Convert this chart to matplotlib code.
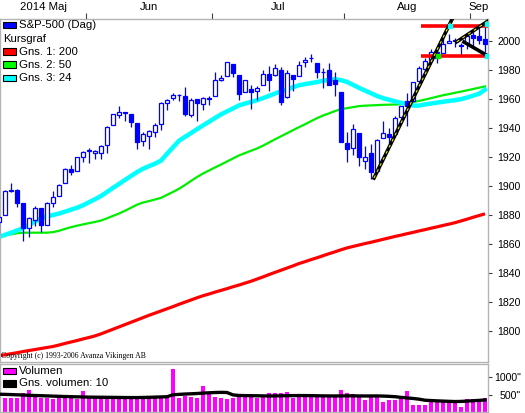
import numpy as np
import pandas as pd
import matplotlib
matplotlib.use("Agg")
import matplotlib.pyplot as plt
from matplotlib.patches import Rectangle

# S&P-500 daily, 2014-05-09 .. 2014-09-04
dates = ["2014-05-09", "2014-05-12", "2014-05-13", "2014-05-14", "2014-05-15", "2014-05-16",
         "2014-05-19", "2014-05-20", "2014-05-21", "2014-05-22", "2014-05-23",
         "2014-05-27", "2014-05-28", "2014-05-29", "2014-05-30",
         "2014-06-02", "2014-06-03", "2014-06-04", "2014-06-05", "2014-06-06",
         "2014-06-09", "2014-06-10", "2014-06-11", "2014-06-12", "2014-06-13",
         "2014-06-16", "2014-06-17", "2014-06-18", "2014-06-19", "2014-06-20",
         "2014-06-23", "2014-06-24", "2014-06-25", "2014-06-26", "2014-06-27", "2014-06-30",
         "2014-07-01", "2014-07-02", "2014-07-03", "2014-07-07", "2014-07-08",
         "2014-07-09", "2014-07-10", "2014-07-11", "2014-07-14", "2014-07-15",
         "2014-07-16", "2014-07-17", "2014-07-18", "2014-07-21", "2014-07-22",
         "2014-07-23", "2014-07-24", "2014-07-25", "2014-07-28", "2014-07-29",
         "2014-07-30", "2014-07-31",
         "2014-08-01", "2014-08-04", "2014-08-05", "2014-08-06", "2014-08-07",
         "2014-08-08", "2014-08-11", "2014-08-12", "2014-08-13", "2014-08-14",
         "2014-08-15", "2014-08-18", "2014-08-19", "2014-08-20", "2014-08-21",
         "2014-08-22", "2014-08-25", "2014-08-26", "2014-08-27", "2014-08-28",
         "2014-08-29", "2014-09-02", "2014-09-03", "2014-09-04"]

opens = [1875.3, 1880.0, 1896.8, 1897.1, 1888.2, 1871.2, 1876.7, 1884.9, 1873.3, 1888.2, 1893.3,
         1902.0, 1911.8, 1910.6, 1920.3,
         1923.9, 1923.1, 1923.1, 1928.5, 1942.4, 1949.0, 1950.3, 1949.4, 1943.4, 1930.8,
         1934.8, 1937.2, 1942.7, 1957.5, 1960.5, 1962.9, 1962.0, 1949.3, 1959.9, 1956.6, 1960.8,
         1962.3, 1973.1, 1975.9, 1984.2, 1976.4, 1965.1, 1966.7, 1965.8, 1969.9, 1977.4,
         1976.4, 1979.8, 1961.5, 1976.9, 1975.7, 1985.3, 1988.1, 1984.6, 1978.3, 1980.0,
         1973.2, 1965.1,
         1929.8, 1926.0, 1936.3, 1917.3, 1923.0, 1910.4, 1933.4, 1935.7, 1935.6, 1947.4,
         1958.9, 1958.4, 1972.7, 1980.5, 1986.8, 1992.6, 1991.7, 1998.6, 2000.5, 1997.4,
         1998.5, 2004.1, 2003.6, 2001.7]
highs = [1878.8, 1897.1, 1902.2, 1897.8, 1888.2, 1878.3, 1886.0, 1884.9, 1888.8, 1896.3, 1901.3,
         1912.3, 1914.5, 1920.0, 1924.0,
         1925.9, 1925.1, 1928.6, 1941.7, 1949.4, 1955.5, 1950.9, 1949.4, 1943.4, 1937.3,
         1938.4, 1943.7, 1957.7, 1959.9, 1963.9, 1963.7, 1968.2, 1960.8, 1959.9, 1961.5, 1962.3,
         1978.6, 1976.7, 1985.6, 1984.2, 1976.4, 1972.8, 1969.8, 1968.7, 1979.9, 1982.5,
         1983.9, 1981.8, 1979.9, 1976.9, 1986.2, 1989.2, 1991.4, 1984.6, 1981.5, 1984.9,
         1978.9, 1965.1,
         1937.4, 1942.9, 1936.3, 1927.9, 1928.9, 1932.4, 1944.9, 1939.7, 1948.4, 1955.2,
         1964.0, 1972.0, 1982.6, 1988.6, 1994.8, 1993.5, 2002.0, 2005.0, 2002.1, 1998.5,
         2003.4, 2006.1, 2009.3, 2011.2]
lows = [1867.0, 1880.0, 1896.1, 1885.8, 1862.4, 1864.8, 1872.4, 1868.1, 1873.3, 1885.4, 1893.3,
        1902.0, 1907.3, 1910.6, 1916.6,
        1916.0, 1918.8, 1918.6, 1922.9, 1942.4, 1947.2, 1944.6, 1940.8, 1925.8, 1927.7,
        1925.5, 1933.6, 1938.7, 1952.3, 1959.2, 1958.9, 1948.3, 1947.5, 1944.7, 1952.2, 1955.9,
        1962.3, 1972.6, 1975.9, 1974.9, 1959.5, 1965.1, 1952.9, 1959.6, 1969.9, 1965.3,
        1975.7, 1955.6, 1960.8, 1965.8, 1975.7, 1982.4, 1985.8, 1974.4, 1967.3, 1969.9,
        1962.4, 1930.7,
        1916.4, 1921.2, 1913.8, 1911.5, 1904.8, 1909.0, 1933.4, 1928.3, 1935.6, 1947.4,
        1941.5, 1958.4, 1972.7, 1977.7, 1986.8, 1984.8, 1991.7, 1998.6, 1996.2, 1990.5,
        1994.7, 1994.9, 1998.1, 1992.4]
closes = [1878.5, 1896.7, 1897.5, 1888.5, 1870.9, 1877.9, 1885.1, 1872.8, 1888.0, 1892.5, 1900.5,
          1911.9, 1909.8, 1920.0, 1923.6,
          1925.0, 1924.2, 1927.9, 1940.5, 1949.4, 1951.3, 1950.8, 1943.9, 1930.1, 1936.2,
          1937.8, 1942.0, 1957.0, 1959.5, 1962.9, 1962.6, 1950.0, 1959.5, 1957.2, 1961.0, 1960.2,
          1973.3, 1974.6, 1985.4, 1977.7, 1963.7, 1972.8, 1964.7, 1967.6, 1977.1, 1973.3,
          1981.6, 1958.1, 1978.2, 1973.6, 1983.5, 1987.0, 1988.0, 1978.3, 1978.9, 1970.0,
          1970.1, 1930.7,
          1925.2, 1939.0, 1920.2, 1920.2, 1909.6, 1931.6, 1936.9, 1933.8, 1946.7, 1955.2,
          1955.1, 1971.7, 1981.6, 1986.5, 1992.4, 1988.4, 1997.9, 2000.0, 2000.1, 1996.7,
          2003.4, 2002.3, 2000.7, 1997.7]

# moving averages
ma200 = [1782.9, 1783.6, 1784.3, 1785.0, 1785.8, 1786.5, 1787.2, 1787.9, 1788.6, 1789.3,
         1790.3, 1791.4, 1792.4, 1793.4, 1794.5, 1795.5, 1796.6, 1798.0, 1799.6, 1801.2,
         1802.8, 1804.4, 1806.0, 1807.6, 1809.2, 1810.8, 1812.3, 1813.8, 1815.3, 1816.8,
         1818.4, 1819.9, 1821.4, 1822.9, 1824.3, 1825.5, 1826.8, 1828.0, 1829.2, 1830.5,
         1831.7, 1833.0, 1834.3, 1835.8, 1837.3, 1838.9, 1840.4, 1841.9, 1843.4, 1844.9,
         1846.5, 1847.8, 1849.2, 1850.5, 1851.9, 1853.3, 1854.6, 1856.0, 1857.3, 1858.3,
         1859.3, 1860.3, 1861.2, 1862.2, 1863.2, 1864.2, 1865.2, 1866.1, 1867.1, 1868.0,
         1869.0, 1869.9, 1870.9, 1871.8, 1872.8, 1873.7, 1874.7, 1875.9, 1877.1, 1878.4,
         1879.6, 1880.8]
ma50 = [1865.3, 1866.0, 1866.7, 1867.4, 1867.8, 1867.8, 1867.8, 1867.8, 1867.8, 1868.2,
        1869.1, 1870.4, 1871.6, 1872.6, 1873.5, 1874.4, 1875.2, 1876.2, 1877.7, 1879.4,
        1881.0, 1882.9, 1885.0, 1887.1, 1888.6, 1889.6, 1890.7, 1891.8, 1893.9, 1895.9,
        1898.1, 1900.7, 1903.5, 1906.2, 1908.6, 1910.7, 1912.8, 1914.8, 1916.9, 1919.0,
        1921.1, 1922.7, 1924.3, 1925.9, 1927.8, 1930.0, 1932.2, 1934.3, 1936.4, 1938.5,
        1940.6, 1942.6, 1944.7, 1946.8, 1948.6, 1950.1, 1951.7, 1953.0, 1953.7, 1954.4,
        1955.1, 1955.4, 1955.6, 1955.8, 1956.0, 1956.1, 1956.2, 1956.4, 1957.1, 1957.9,
        1958.7, 1959.6, 1960.6, 1961.6, 1962.6, 1963.4, 1964.3, 1965.1, 1966.0, 1966.9,
        1967.8, 1968.7]
ma24 = [1864.8, 1866.3, 1867.8, 1869.3, 1870.9, 1873.2, 1875.5, 1877.8, 1879.0, 1880.0,
        1881.0, 1882.3, 1883.7, 1885.0, 1886.7, 1888.8, 1890.9, 1893.1, 1895.9, 1898.7,
        1901.4, 1904.2, 1906.9, 1909.6, 1911.9, 1913.7, 1915.4, 1917.5, 1922.2, 1926.7,
        1931.2, 1933.9, 1936.5, 1939.2, 1941.8, 1944.3, 1946.9, 1949.4, 1951.5, 1953.5,
        1955.6, 1956.9, 1958.0, 1959.2, 1960.6, 1962.2, 1963.8, 1965.3, 1966.6, 1968.1,
        1969.5, 1970.3, 1971.0, 1971.7, 1972.6, 1973.2, 1973.7, 1973.0, 1971.8, 1969.8,
        1967.7, 1965.8, 1964.0, 1962.1, 1960.6, 1959.5, 1958.4, 1957.4, 1956.6, 1955.5,
        1955.4, 1956.3, 1956.9, 1957.5, 1958.1, 1958.7, 1959.2, 1959.9, 1961.0, 1962.3,
        1963.6, 1966.4]

volume = [420, 406, 406, 406, 547, 641, 453, 425, 406, 378, 453, 472, 406, 378, 613,
          406, 406, 406, 434, 434, 406, 406, 425, 453, 472, 434, 434, 453, 481, 1235,
          425, 481, 453, 425, 754, 528, 453, 406, 378, 406, 481, 453, 453, 406, 453,
          566, 547, 566, 594, 406, 453, 453, 472, 472, 453, 472, 453, 641, 547, 519,
          472, 359, 472, 453, 312, 359, 359, 378, 613, 218, 218, 218, 378, 359, 331,
          331, 265, 170, 378, 378, 378, 406]
vol_ma10 = [520, 515, 510, 503, 497, 490, 483, 478, 472, 466, 460, 455, 450, 446, 442,
            438, 435, 434, 432, 430, 428, 426, 425, 424, 428, 432, 438, 443, 448, 505,
            515, 525, 532, 540, 552, 560, 568, 573, 568, 500, 485, 480, 478, 476, 472,
            470, 472, 475, 478, 480, 482, 481, 479, 476, 473, 471, 470, 472, 474, 473,
            471, 470, 470, 471, 468, 460, 450, 430, 415, 400, 380, 350, 340, 332, 325,
            318, 312, 316, 325, 335, 345, 358]

# hand drawn analysis lines (day index, price)
trend_x, trend_y = [62.5, 75.7], [1905.5, 2016.6]
wedge_top_x, wedge_top_y = [76.3, 81.5], [1999.5, 2013.8]
wedge_bot_x, wedge_bot_y = [77.5, 81.5], [1999.3, 1989.7]
resist_x, resist_y = [70.3, 82.0], [2010.6, 2010.6]
support_x, support_y = [70.3, 82.0], [1989.9, 1989.9]

month_names = ["Jan", "Feb", "Mar", "Apr", "Maj", "Jun", "Jul", "Aug", "Sep", "Okt", "Nov", "Dec"]
price_ticks = list(range(1800, 2001, 20))
vol_ticks = [500, 1000]

FONT = "Liberation Sans"
FS = 7.6
W, H = 525, 413

idx = np.arange(len(dates))
o, h, l, c = map(np.array, (opens, highs, lows, closes))
dt = pd.to_datetime(dates)

fig = plt.figure(figsize=(W / 100, H / 100), dpi=100)
ax = fig.add_axes([0, (H - 362) / H, 488 / W, 343 / H])
axv = fig.add_axes([0, 0.6 / H, 488 / W, 48.4 / H])

ax.set_xlim(1 / 6, 81.5)
ax.set_ylim(1778.6, 2015.2)
axv.set_xlim(1 / 6, 81.5)
axv.set_ylim(5, 1376)

# moving averages
ax.plot(idx, ma200, color="#ff0000", lw=2.3, solid_capstyle="butt", zorder=2)
ax.plot(idx, ma50, color="#00ee00", lw=1.6, zorder=2)
ax.plot(idx, ma24, color="#00ffff", lw=3.2, zorder=2)

# candles
up = c >= o
ax.vlines(idx, l, h, color="#0000ff", lw=0.9, zorder=3)
body_lo = np.minimum(o, c)
body_h = np.maximum(np.abs(c - o), 0.5)
ax.bar(idx[up], body_h[up], bottom=body_lo[up], width=0.72, facecolor="white",
       edgecolor="#0000ff", linewidth=0.9, zorder=4)
ax.bar(idx[~up], body_h[~up], bottom=body_lo[~up], width=0.72, facecolor="#0000ff",
       edgecolor="#0000ff", linewidth=0.9, zorder=4)

# analysis lines
for xs, ys in [(resist_x, resist_y), (support_x, support_y)]:
    ax.plot(xs, ys, color="#ff0000", lw=2.6, zorder=5, solid_capstyle="butt")
for xs, ys in [(trend_x, trend_y), (wedge_top_x, wedge_top_y), (wedge_bot_x, wedge_bot_y)]:
    ax.plot(xs, ys, color="black", lw=2.6, zorder=6)
for xs, ys in [(trend_x, trend_y), (wedge_top_x, wedge_top_y)]:
    ax.plot(xs, ys, color="#ffff00", lw=0.7, ls=(0, (3, 4)), zorder=7)
ax.plot([75.2, 81.3, 81.4], [2010.6, 2011.5, 1989.9], ls="none", marker="s", ms=2.5,
        color="#00ffff", zorder=8)
ax.plot([73.2], [1989.9], ls="none", marker="s", ms=2.5, color="#00ee00", zorder=8)

# volume
axv.bar(idx, volume, width=0.66, color="#ff00ff", zorder=2)
axv.plot(idx, vol_ma10, color="black", lw=2.4, zorder=3)

for a in (ax, axv):
    for s in a.spines.values():
        s.set_color("#b4b4b4")
        s.set_linewidth(1.0)
    a.set_xticks([])
    a.yaxis.tick_right()
    a.tick_params(axis="y", direction="out", length=3, width=0.8, color="#404040",
                  labelsize=FS, pad=20.5, labelcolor="black")

ax.set_yticks(price_ticks)
ax.set_yticklabels([str(t) for t in price_ticks], fontfamily=FONT)
axv.set_yticks(vol_ticks)
axv.set_yticklabels([f'{t}"' for t in vol_ticks], fontfamily=FONT)
for a in (ax, axv):
    for lbl in a.get_yticklabels():
        lbl.set_horizontalalignment("right")

# month ticks on top edge and month names above
starts = [0] + [i for i in range(1, len(dt)) if dt[i].month != dt[i - 1].month]
bounds = [s - 0.5 for s in starts[1:]]
top = ax.secondary_xaxis("top")
top.set_xticks(bounds, labels=[""] * len(bounds))
top.tick_params(direction="out", length=4, width=0.8, color="#404040")
top.spines["top"].set_visible(False)
edges = [ax.get_xlim()[0]] + bounds + [ax.get_xlim()[1]]
for k, s in enumerate(starts):
    name = month_names[dt[s].month - 1]
    if k == 0:
        name = f"{dt[s].year} {name}"
    ax.text((edges[k] + edges[k + 1]) / 2, 1 + 12 / 343, name, transform=ax.get_xaxis_transform(),
            ha="center", va="center", fontsize=FS + 0.6, fontfamily=FONT)


def legend_row(axis, px_y, panel_top, panel_h, label, color=None):
    yy = 1 - (px_y - panel_top) / panel_h
    tx = 3 / 488
    if color is not None:
        axis.add_patch(Rectangle((3.3 / 488, yy - 3.4 / panel_h), 13 / 488, 6.8 / panel_h,
                                 transform=axis.transAxes, facecolor=color, edgecolor="black",
                                 linewidth=0.8, zorder=9))
        tx = 19 / 488
    axis.text(tx, yy, label, transform=axis.transAxes, ha="left", va="center",
              fontsize=FS + 0.6, fontfamily=FONT, zorder=10)


legend_row(ax, 25, 19, 343, "S&P-500 (Dag)", "#0000ff")
legend_row(ax, 39, 19, 343, "Kursgraf")
legend_row(ax, 51.7, 19, 343, "Gns. 1: 200", "#ff0000")
legend_row(ax, 64.7, 19, 343, "Gns. 2: 50", "#00ff00")
legend_row(ax, 78, 19, 343, "Gns. 3: 24", "#00ffff")
legend_row(axv, 371, 364, 48.4, "Volumen", "#ff00ff")
legend_row(axv, 383.3, 364, 48.4, "Gns. volumen: 10", "black")

ax.text(1 / 488, (362 - 356.5) / 343, "Copyright (c) 1993-2006 Avanza Vikingen AB",
        transform=ax.transAxes, ha="left", va="center", fontsize=5.6,
        fontfamily="Liberation Serif", zorder=10)

fig.savefig("out.png", dpi=100)
